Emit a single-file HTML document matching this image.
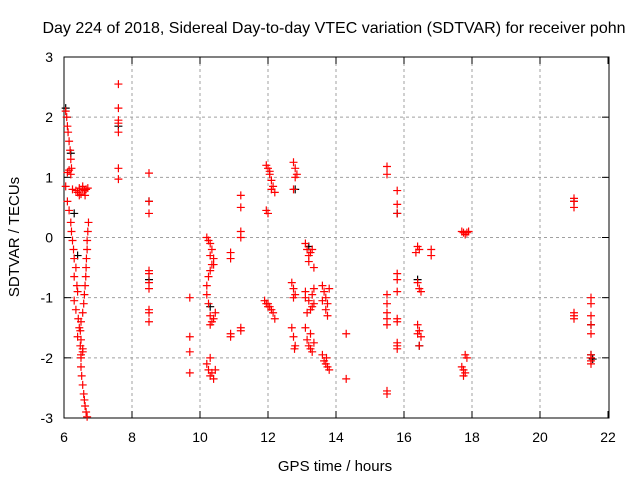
<!DOCTYPE html>
<html><head><meta charset="utf-8"><style>
body{margin:0;background:#fff;}
svg{display:block;font-family:"Liberation Sans",sans-serif;}
</style></head><body>
<svg id="chart" width="640" height="480">
<text x="334" y="33" text-anchor="middle" font-size="16">Day 224 of 2018, Sidereal Day-to-day VTEC variation (SDTVAR) for receiver pohn</text>
<text x="335" y="471" text-anchor="middle" font-size="15">GPS time / hours</text>
<text x="0" y="0" transform="translate(19,237) rotate(-90)" text-anchor="middle" font-size="15">SDTVAR / TECUs</text>
<g id="grid"></g><g id="axes"></g><g id="black"></g><g id="red"></g>
</svg>
<script>
const xTicks=[6,8,10,12,14,16,18,20,22];
const yTicks=[-3,-2,-1,0,1,2,3];
const redHours=[6.05,6.08,6.1,6.12,6.15,6.18,6.2,6.22,6.15,6.1,6.2,6.05,6.25,6.1,6.15,6.2,6.22,6.25,6.28,6.3,6.35,6.3,6.38,6.4,6.3,6.35,6.42,6.45,6.4,6.48,6.5,6.55,
6.35,6.4,6.45,6.5,6.55,6.6,6.65,6.7,6.45,6.55,6.62,
6.72,6.7,6.68,6.68,6.66,6.65,6.64,6.62,6.6,6.58,6.55,6.5,6.48,6.5,6.55,6.5,6.5,6.52,6.55,6.58,6.6,6.62,6.65,6.68,
7.6,7.6,7.6,7.6,7.6,7.6,7.6,
8.5,8.5,8.5,8.5,8.5,8.5,8.5,8.5,8.5,8.5,
9.7,9.7,9.7,9.7,
10.2,10.25,10.3,10.35,10.3,10.4,10.35,10.3,10.25,10.2,10.2,10.4,10.25,10.3,10.35,10.4,10.45,10.3,10.2,10.25,10.3,10.35,10.4,10.45,10.3,
10.9,10.9,10.9,10.9,
11.2,11.2,11.2,11.2,11.2,11.2,
11.95,12.0,12.05,12.1,12.05,12.15,12.2,12.1,11.95,12.0,11.9,11.95,12.0,12.05,12.1,12.15,12.2,12.0,
12.75,12.8,12.85,12.8,12.75,12.7,12.75,12.8,12.75,12.7,12.75,12.8,12.78,
13.1,13.15,13.2,13.25,13.3,13.2,13.35,13.1,13.1,13.2,13.3,13.35,13.25,13.15,13.3,13.35,13.1,13.15,13.2,13.25,13.3,13.35,13.25,
13.6,13.65,13.7,13.75,13.8,13.7,13.6,13.75,13.6,13.65,13.7,13.75,13.8,13.72,
14.3,14.3,
15.5,15.5,15.5,15.5,15.5,15.5,15.5,15.5,15.5,
15.8,15.8,15.8,15.8,15.8,15.8,15.8,15.8,15.8,15.8,15.8,
16.4,16.45,16.35,16.4,16.45,16.5,16.4,16.45,16.4,16.5,16.45,
16.8,16.8,
17.7,17.75,17.8,17.85,17.9,17.8,17.85,17.7,17.75,17.8,17.75,
21,21,21,21,21,21,
21.5,21.5,21.5,21.5,21.5,21.5,21.5,21.5,21.5];
const redValues=[2.1,2.0,1.85,1.75,1.6,1.45,1.3,1.15,1.12,1.08,1.05,0.85,0.8,0.6,0.45,0.25,0.1,-0.05,-0.2,-0.35,-0.5,-0.65,-0.8,-0.9,-1.05,-1.2,-1.35,-1.5,-1.65,-1.8,-1.95,-1.9,
0.78,0.75,0.82,0.72,0.8,0.78,0.8,0.82,0.7,0.85,0.7,
0.25,0.1,-0.05,-0.2,-0.35,-0.5,-0.65,-0.8,-0.95,-1.1,-1.25,-1.4,-1.55,-1.7,-1.85,-2.0,-2.15,-2.3,-2.45,-2.6,-2.7,-2.8,-2.9,-2.98,
2.55,2.15,1.95,1.9,1.75,1.15,0.97,
1.07,0.6,0.4,-0.55,-0.6,-0.75,-0.85,-1.2,-1.25,-1.4,
-1.0,-1.65,-1.9,-2.25,
0,-0.05,-0.1,-0.2,-0.3,-0.35,-0.45,-0.55,-0.65,-0.8,-0.95,-0.45,-1.1,-1.3,-1.4,-1.35,-1.25,-1.45,-2.1,-2.2,-2.3,-2.25,-2.35,-2.2,-2.0,
-0.25,-0.35,-1.6,-1.65,
0.7,0.5,0.1,0,-1.5,-1.55,
1.2,1.15,1.05,0.95,1.1,0.85,0.75,0.8,0.45,0.4,-1.05,-1.1,-1.15,-1.15,-1.2,-1.25,-1.35,-1.1,
1.25,1.15,1.05,1.0,0.8,-0.75,-0.85,-0.95,-1.0,-1.5,-1.65,-1.8,-1.85,
-0.1,-0.2,-0.3,-0.25,-0.2,-0.4,-0.5,-0.9,-1.0,-1.05,-0.95,-1.1,-1.2,-1.25,-1.15,-0.85,-1.5,-1.7,-1.8,-1.85,-1.9,-1.75,-1.6,
-0.8,-0.9,-1.0,-1.1,-0.85,-1.2,-1.05,-1.3,-1.95,-2.05,-2.1,-2.15,-2.2,-2.0,
-1.6,-2.35,
1.18,1.05,-0.95,-1.1,-1.25,-1.35,-1.45,-2.55,-2.6,
0.78,0.55,0.4,-0.6,-0.7,-0.9,-1.35,-1.4,-1.75,-1.8,-1.85,
-0.15,-0.2,-0.25,-0.75,-0.85,-0.9,-1.45,-1.55,-1.6,-1.65,-1.8,
-0.2,-0.3,
0.1,0.08,0.05,0.08,0.1,-1.95,-2.0,-2.15,-2.2,-2.25,-2.3,
0.65,0.6,0.5,-1.25,-1.3,-1.35,
-1.0,-1.1,-1.3,-1.45,-1.6,-1.95,-2.0,-2.05,-2.1];
const blackHours=[6.05,6.2,6.3,6.4,7.6,8.5,8.5,10.3,12.8,13.2,15.8,16.4,16.45,21,21.5,21.5,21.55];
const blackValues=[2.15,1.4,0.4,-0.3,1.85,0.6,-0.7,-1.15,0.8,-0.15,0.4,-0.7,-1.8,0.6,-1.45,-1.95,-2.02];
const X=h=>64+(h-6)*34, Y=v=>237.5-v*60.17;
const NS="http://www.w3.org/2000/svg";
function mk(t,a,p){const e=document.createElementNS(NS,t);for(const k in a)e.setAttribute(k,a[k]);p.appendChild(e);return e;}
const grid=document.getElementById('grid'),axes=document.getElementById('axes');
xTicks.forEach(t=>{const x=X(t);
 if(t>6&&t<22){const g=mk('line',{x1:x,x2:x,y1:57,y2:418,stroke:'#a0a0a0','stroke-dasharray':'3,3'},grid);
 
 }
 mk('line',{x1:x,x2:x,y1:418,y2:411,stroke:'#000'},axes);mk('line',{x1:x,x2:x,y1:57,y2:64,stroke:'#000'},axes);
 const l=mk('text',{x:x,y:442,'text-anchor':'middle','font-size':14},axes);l.textContent=t;
 
 });
yTicks.forEach(t=>{const y=Y(t);
 if(t>-3&&t<3){const g=mk('line',{x1:64,x2:609,y1:y,y2:y,stroke:'#a0a0a0','stroke-dasharray':'3,3'},grid);
 
 }
 mk('line',{x1:64,x2:71,y1:y,y2:y,stroke:'#000'},axes);mk('line',{x1:602,x2:609,y1:y,y2:y,stroke:'#000'},axes);
 const l=mk('text',{x:53,y:y+5,'text-anchor':'end','font-size':14},axes);l.textContent=t;
 
 });
const box=mk('rect',{x:64,y:57,width:545,height:361,fill:'none',stroke:'#000'},axes);


function plus(g,h,v,c){const x=X(h),y=Y(v);
 const p=mk('path',{d:`M${x-4} ${y}H${x+4}M${x} ${y-4}V${y+4}`,stroke:c,'stroke-width':1.2,fill:'none'},g);return p;}
const bg=document.getElementById('black'),rg=document.getElementById('red');
blackHours.forEach((h,i)=>{const p=plus(bg,h,blackValues[i],'#000');
 
 });
redHours.forEach((h,i)=>{const p=plus(rg,h,redValues[i],'#f00');
 
 });
</script>
</body></html>
